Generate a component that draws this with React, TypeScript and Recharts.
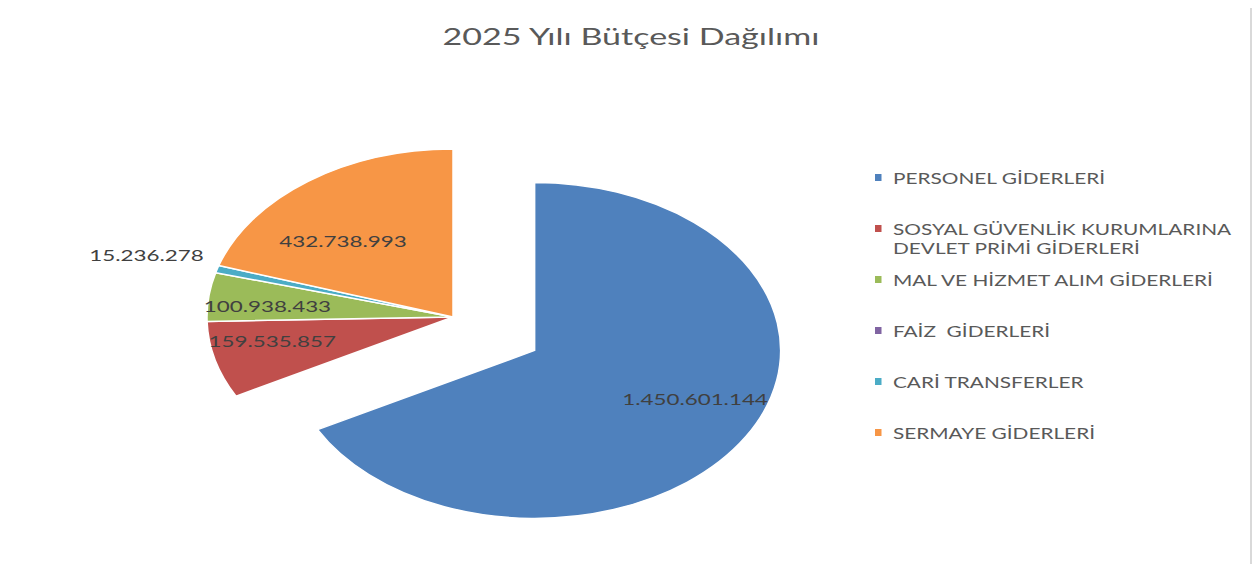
import React from 'react';
import { PieChart, Pie, Legend } from 'recharts';

const categories = [
  'PERSONEL GİDERLERİ',
  'SOSYAL GÜVENLİK KURUMLARINA DEVLET PRİMİ GİDERLERİ',
  'MAL VE HİZMET ALIM GİDERLERİ',
  'FAİZ  GİDERLERİ',
  'CARİ TRANSFERLER',
  'SERMAYE GİDERLERİ',
];
const values = [1450601144, 159535857, 100938433, 0, 15236278, 432738993];
const colors = ['#4F81BD', '#C0504D', '#9BBB59', '#8064A2', '#4BACC6', '#F79646'];
const titleText = '2025 Yılı Bütçesi Dağılımı';
const explodedCategory = 'PERSONEL GİDERLERİ';

const data = categories.map((name, i) => ({ name, value: values[i], fill: colors[i] }));

const RAD = Math.PI / 180;
const STRETCH = 246 / 168; // horizontal stretch of the pie (ellipse)
const EXPLODE = 65;
const LABEL_SCALE = 1.4;
const LEGEND_SCALE = 1.3;
const TITLE_SCALE = 1.48;
const FONT = 'Lato, "Open Sans", sans-serif';

const fmt = (v: number) => String(v).replace(/\B(?=(\d{3})+(?!\d))/g, '.');

const offsetFor = (name: string, midAngle: number) => {
  if (name !== explodedCategory) return [0, 0];
  return [EXPLODE * STRETCH * Math.cos(midAngle * RAD), -EXPLODE * Math.sin(midAngle * RAD)];
};

const EllipseSector = (props: any) => {
  const { cx, cy, outerRadius, startAngle, endAngle, fill } = props;
  const name = props.name ?? props.payload?.name;
  if (Math.abs(endAngle - startAngle) < 1e-6) return null;
  const mid = (startAngle + endAngle) / 2;
  const [ox, oy] = offsetFor(name, mid);
  const ccx = cx + ox;
  const ccy = cy + oy;
  const rx = outerRadius * STRETCH;
  const ry = outerRadius;
  const x1 = ccx + rx * Math.cos(startAngle * RAD);
  const y1 = ccy - ry * Math.sin(startAngle * RAD);
  const x2 = ccx + rx * Math.cos(endAngle * RAD);
  const y2 = ccy - ry * Math.sin(endAngle * RAD);
  const large = Math.abs(endAngle - startAngle) > 180 ? 1 : 0;
  const sweep = startAngle > endAngle ? 1 : 0;
  const d = `M${ccx},${ccy} L${x1},${y1} A${rx},${ry} 0 ${large} ${sweep} ${x2},${y2} Z`;
  return <path d={d} fill={fill} stroke="#ffffff" strokeWidth={1.5} strokeLinejoin="round" />;
};

const renderLabel = (props: any) => {
  const { cx, cy, midAngle, outerRadius, value, percent, name } = props;
  if (!value) return null;
  const [ox, oy] = offsetFor(name, midAngle);
  const outside = percent < 0.02;
  const kx = outside ? 1.3 : 0.76;
  const ky = outside ? 1.3 : 0.56;
  const x = cx + ox + kx * outerRadius * STRETCH * Math.cos(midAngle * RAD);
  const y = cy + oy - ky * outerRadius * Math.sin(midAngle * RAD);
  return (
    <text
      transform={`translate(${x},${y}) scale(${LABEL_SCALE},1)`}
      textAnchor="middle"
      dominantBaseline="central"
      fill="#404040"
      fontSize={16}
      fontFamily={FONT}
    >
      {fmt(value)}
    </text>
  );
};

const renderLegend = (props: any) => {
  const payload = props.payload || [];
  return (
    <div style={{ transform: `scaleX(${LEGEND_SCALE})`, transformOrigin: 'left top', fontFamily: FONT }}>
      {categories.map((cat, i) => {
        const entry = payload.find((p: any) => p.value === cat);
        return (
          <div key={cat} style={{ height: 51, display: 'flex', alignItems: 'flex-start' }}>
            <span
              style={{
                display: 'inline-block',
                width: 7 / LEGEND_SCALE,
                height: 7,
                marginTop: 6,
                marginRight: 11 / LEGEND_SCALE,
                background: colors[i] || entry?.color,
                flexShrink: 0,
              }}
            />
            <span style={{ width: 264, lineHeight: '19px', fontSize: 16, color: '#595959', whiteSpace: 'pre-wrap' }}>
              {cat}
            </span>
          </div>
        );
      })}
    </div>
  );
};

export default function App() {
  return (
    <div style={{ position: 'relative', width: 1260, height: 572, margin: -8, overflow: 'hidden', background: '#fff' }}>
      <div
        style={{
          position: 'absolute',
          left: 6,
          top: 5,
          width: 1246,
          height: 600,
          border: '2px solid #d9d9d9',
          boxSizing: 'border-box',
        }}
      />
      <div
        style={{
          position: 'absolute',
          left: 0,
          top: 20,
          width: 1262,
          textAlign: 'center',
          fontFamily: FONT,
          fontSize: 23,
          lineHeight: '32px',
          color: '#595959',
          transform: `scaleX(${TITLE_SCALE})`,
          transformOrigin: '631px 0',
        }}
      >
        {titleText}
      </div>
      <div style={{ position: 'absolute', left: 0, top: 0 }}>
        <PieChart width={1260} height={572} margin={{ top: 0, right: 0, bottom: 0, left: 0 }}>
          <Pie
            data={data}
            dataKey="value"
            nameKey="name"
            cx={453}
            cy={317}
            outerRadius={168}
            startAngle={90}
            endAngle={-270}
            isAnimationActive={false}
            shape={EllipseSector}
            activeShape={EllipseSector}
            label={renderLabel}
            labelLine={false}
          />
          <Legend
            layout="vertical"
            align="right"
            verticalAlign="top"
            content={renderLegend}
            wrapperStyle={{ left: 875, top: 168, width: 380, right: 'auto' }}
          />
        </PieChart>
      </div>
    </div>
  );
}
